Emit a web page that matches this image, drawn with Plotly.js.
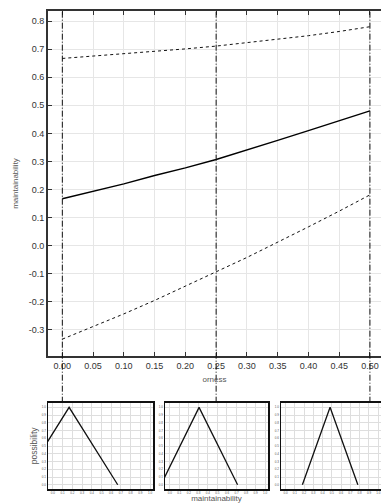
<!DOCTYPE html>
<html>
<head>
<meta charset="utf-8">
<script src="https://cdn.plot.ly/plotly-3.0.1.min.js"></script>
<style>html,body{margin:0;padding:0;background:#fff;}#chart{width:381px;height:503px;}</style>
</head>
<body>
<div id="chart"></div>
<script>
// ---- data ----
const orness = [0.00, 0.05, 0.10, 0.15, 0.20, 0.25, 0.30, 0.35, 0.40, 0.45, 0.50];
const centerVals = [0.167, 0.193, 0.220, 0.250, 0.277, 0.307, 0.340, 0.375, 0.410, 0.445, 0.480];
const upperVals  = [0.667, 0.675, 0.683, 0.692, 0.701, 0.711, 0.723, 0.735, 0.748, 0.763, 0.780];
const lowerVals  = [-0.333, -0.289, -0.243, -0.195, -0.145, -0.093, -0.042, 0.012, 0.067, 0.123, 0.181];
const markedOrness = [0.00, 0.25, 0.50];
const xTickVals = [0.00, 0.05, 0.10, 0.15, 0.20, 0.25, 0.30, 0.35, 0.40, 0.45, 0.50];
const xTickText = ["0.00","0.05","0.10","0.15","0.20","0.25","0.30","0.35","0.40","0.45","0.50"];
const yTickVals = [-0.3, -0.2, -0.1, 0.0, 0.1, 0.2, 0.3, 0.4, 0.5, 0.6, 0.7, 0.8];
const yTickText = ["-0.3","-0.2","-0.1","0.0","0.1","0.2","0.3","0.4","0.5","0.6","0.7","0.8"];
const smallTickVals = [0.0,0.1,0.2,0.3,0.4,0.5,0.6,0.7,0.8,0.9,1.0];
const smallTickText = ["0.0","0.1","0.2","0.3","0.4","0.5","0.6","0.7","0.8","0.9","1.0"];
const possibility = [0, 1, 0];

// ---- build ----
const W = 381, H = 503;
const px = v => v / W;
const py = v => 1 - v / H;
const FONT = "Liberation Sans, Arial, sans-serif";

const traces = [
  {x: orness, y: upperVals, mode: 'lines', line: {color: '#111', width: 1, dash: '3px,3px'}, xaxis: 'x', yaxis: 'y', hoverinfo: 'skip'},
  {x: orness, y: centerVals, mode: 'lines', line: {color: '#000', width: 1.4}, xaxis: 'x', yaxis: 'y', hoverinfo: 'skip'},
  {x: orness, y: lowerVals, mode: 'lines', line: {color: '#111', width: 1, dash: '3px,3px'}, xaxis: 'x', yaxis: 'y', hoverinfo: 'skip'}
];

markedOrness.forEach((o, i) => {
  const idx = orness.indexOf(o);
  const n = i + 2;
  traces.push({
    x: [lowerVals[idx], centerVals[idx], upperVals[idx]],
    y: possibility,
    mode: 'lines', line: {color: '#111', width: 1.3},
    xaxis: 'x' + n, yaxis: 'y' + n, hoverinfo: 'skip', cliponaxis: true
  });
});

const smallDomainsX = [[px(48), px(153)], [px(165), px(268)], [px(281), 1]];
const smallDomainY = [py(489), py(402.7)];

const layout = {
  width: W, height: H,
  margin: {l: 0, r: 0, t: 0, b: 0},
  paper_bgcolor: '#fff', plot_bgcolor: '#fff',
  showlegend: false,
  font: {family: FONT, color: '#333'},
  xaxis: {
    domain: [px(48), 1], range: [-0.0233, 0.518],
    tickvals: xTickVals, ticktext: xTickText,
    ticks: 'inside', ticklen: 4, tickwidth: 1, tickcolor: '#333',
    showline: true, linewidth: 2, linecolor: '#333', mirror: 'ticks',
    showgrid: true, gridcolor: '#e6e6e6', gridwidth: 1, zeroline: false,
    tickfont: {size: 9, color: '#333', family: FONT},
    title: {text: 'orness', font: {size: 8, color: '#555', family: FONT}, standoff: 7},
    anchor: 'y'
  },
  yaxis: {
    domain: [py(356), py(11)], range: [-0.393, 0.836],
    tickvals: yTickVals, ticktext: yTickText,
    ticks: 'inside', ticklen: 4, tickwidth: 1, tickcolor: '#333',
    showline: true, linewidth: 2, linecolor: '#333',
    showgrid: true, gridcolor: '#e6e6e6', gridwidth: 1, zeroline: false,
    tickfont: {size: 9, color: '#333', family: FONT},
    title: {text: 'maintainability', font: {size: 8, color: '#555', family: FONT}, standoff: 9},
    anchor: 'x'
  },
  shapes: []
};

for (let i = 0; i < 3; i++) {
  const n = i + 2;
  layout['xaxis' + n] = {
    domain: smallDomainsX[i], range: [-0.05, 1.03], anchor: 'y' + n,
    tickvals: smallTickVals, ticktext: smallTickText,
    ticks: '', showline: true, linewidth: 1.5, linecolor: '#111', mirror: true,
    showgrid: true, gridcolor: '#dedede', gridwidth: 1, zeroline: false,
    tickfont: {size: 3, color: '#555', family: FONT},
    title: i === 1 ? {text: 'maintainability', font: {size: 8, color: '#555', family: FONT}, standoff: 3} : {text: ''}
  };
  layout['yaxis' + n] = {
    domain: smallDomainY, range: [-0.055, 1.06], anchor: 'x' + n,
    tickvals: smallTickVals, ticktext: smallTickText,
    ticks: '', showline: true, linewidth: 1.5, linecolor: '#111', mirror: true,
    showgrid: true, gridcolor: '#dedede', gridwidth: 1, zeroline: false,
    tickfont: {size: 3, color: '#555', family: FONT},
    title: i === 0 ? {text: 'possibility', font: {size: 8.5, color: '#555', family: FONT}, standoff: 2} : {text: ''}
  };
}

markedOrness.forEach(o => {
  layout.shapes.push({
    type: 'line', xref: 'x', yref: 'paper',
    x0: o, x1: o, y0: py(402.7), y1: py(11),
    line: {color: '#111', width: 1, dash: '6px,2px,1px,2px'}
  });
});

Plotly.newPlot('chart', traces, layout, {staticPlot: true, displayModeBar: false});
</script>
</body>
</html>
